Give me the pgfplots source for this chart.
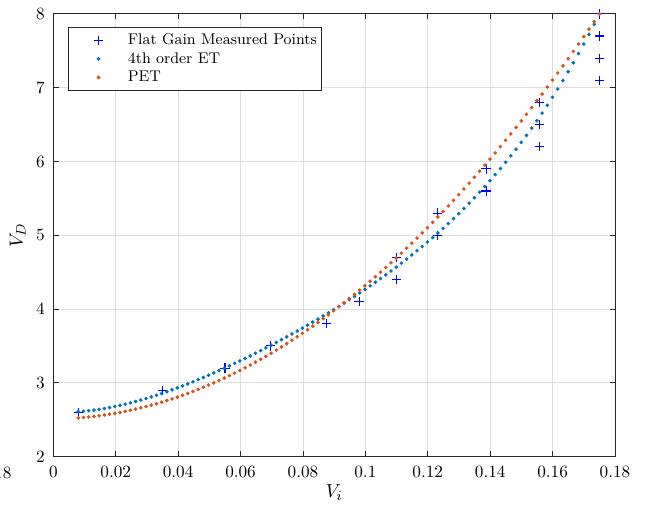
\documentclass[border=0pt]{standalone}
\usepackage{pgfplots}
\usepackage{pgfplotstable}
\pgfplotsset{compat=1.18}
\definecolor{mblue}{rgb}{0,0.447,0.741}
\definecolor{morange}{rgb}{0.85,0.325,0.098}
\definecolor{axgray}{rgb}{0.15,0.15,0.15}
\definecolor{gridgray}{rgb}{0.875,0.875,0.875}

\pgfplotstableread{
x et pet
0.00800 2.6100 2.5240
0.00967 2.6153 2.5300
0.01134 2.6223 2.5369
0.01301 2.6307 2.5449
0.01468 2.6407 2.5538
0.01635 2.6520 2.5637
0.01802 2.6647 2.5746
0.01969 2.6787 2.5865
0.02136 2.6940 2.5994
0.02303 2.7104 2.6132
0.02470 2.7280 2.6281
0.02637 2.7467 2.6439
0.02804 2.7665 2.6607
0.02971 2.7873 2.6785
0.03138 2.8091 2.6973
0.03305 2.8318 2.7171
0.03472 2.8554 2.7378
0.03639 2.8799 2.7596
0.03806 2.9052 2.7823
0.03973 2.9313 2.8060
0.04140 2.9582 2.8307
0.04307 2.9858 2.8564
0.04474 3.0141 2.8831
0.04641 3.0431 2.9107
0.04808 3.0727 2.9394
0.04975 3.1030 2.9690
0.05142 3.1339 2.9996
0.05309 3.1654 3.0312
0.05476 3.1975 3.0638
0.05643 3.2301 3.0974
0.05810 3.2633 3.1319
0.05977 3.2970 3.1675
0.06144 3.3312 3.2040
0.06311 3.3660 3.2415
0.06478 3.4013 3.2800
0.06645 3.4370 3.3195
0.06812 3.4733 3.3599
0.06979 3.5101 3.4014
0.07146 3.5474 3.4438
0.07313 3.5852 3.4873
0.07480 3.6234 3.5317
0.07647 3.6622 3.5771
0.07814 3.7015 3.6235
0.07981 3.7414 3.6708
0.08148 3.7817 3.7192
0.08315 3.8227 3.7685
0.08482 3.8641 3.8188
0.08649 3.9062 3.8702
0.08816 3.9488 3.9225
0.08983 3.9921 3.9757
0.09150 4.0360 4.0300
0.09317 4.0806 4.0853
0.09484 4.1258 4.1415
0.09651 4.1717 4.1987
0.09818 4.2184 4.2569
0.09985 4.2658 4.3161
0.10152 4.3141 4.3763
0.10319 4.3631 4.4375
0.10486 4.4130 4.4996
0.10653 4.4638 4.5628
0.10820 4.5156 4.6269
0.10987 4.5683 4.6920
0.11154 4.6220 4.7581
0.11321 4.6768 4.8252
0.11488 4.7327 4.8932
0.11655 4.7898 4.9623
0.11822 4.8480 5.0323
0.11989 4.9075 5.1033
0.12156 4.9683 5.1753
0.12323 5.0305 5.2483
0.12490 5.0940 5.3223
0.12657 5.1591 5.3973
0.12824 5.2256 5.4732
0.12991 5.2937 5.5502
0.13158 5.3635 5.6281
0.13325 5.4350 5.7070
0.13492 5.5083 5.7869
0.13659 5.5834 5.8678
0.13826 5.6604 5.9496
0.13993 5.7394 6.0325
0.14160 5.8205 6.1163
0.14327 5.9037 6.2011
0.14494 5.9890 6.2869
0.14661 6.0767 6.3737
0.14828 6.1668 6.4615
0.14995 6.2592 6.5503
0.15162 6.3542 6.6400
0.15329 6.4519 6.7308
0.15496 6.5522 6.8225
0.15663 6.6553 6.9152
0.15830 6.7612 7.0089
0.15997 6.8702 7.1036
0.16164 6.9822 7.1992
0.16331 7.0973 7.2959
0.16498 7.2157 7.3935
0.16665 7.3375 7.4921
0.16832 7.4627 7.5917
0.16999 7.5914 7.6923
0.17166 7.7238 7.7939
0.17333 7.8600 7.8965
0.17500 8.0000 8.0000
}\curves

\begin{document}
\begin{tikzpicture}
\begin{axis}[
  name=ax,
  scale only axis,
  width=326.6pt, height=257.4pt,
  xmin=0, xmax=0.18, ymin=2, ymax=8,
  xtick={0,0.02,0.04,0.06,0.08,0.1,0.12,0.14,0.16,0.18},
  xticklabels={$0$,$0.02$,$0.04$,$0.06$,$0.08$,$0.1$,$0.12$,$0.14$,$0.16$,$0.18$},
  ytick={2,3,4,5,6,7,8},
  yticklabels={$2$,$3$,$4$,$5$,$6$,$7$,$8$},
  grid=major,
  major grid style={gridgray, line width=0.5pt},
  axis line style={axgray, line width=0.5pt},
  tick style={axgray, line width=0.5pt},
  major tick length=3.2pt,
  tick align=inside,
  xticklabel style={yshift=-2pt},
  yticklabel style={xshift=-1.5pt},
  xlabel={$V_i$}, ylabel={$V_D$},
  label style={font=\fontsize{11}{13}\selectfont},
  xlabel style={at={(axis description cs:0.5,-0.082)}, anchor=center},
  ylabel style={at={(axis description cs:-0.0634,0.5)}, anchor=center},
  legend style={at={(axis description cs:0.026,0.9705)}, anchor=north west,
    draw=axgray, line width=0.5pt, fill=white,
    font=\fontsize{9}{10.8}\selectfont,
    inner xsep=1.5pt, inner ysep=2.1pt, row sep=0pt, column sep=0pt,
    nodes={inner xsep=1pt, inner ysep=1.4pt, text height=6.5pt, text depth=1.5pt}},
  legend cell align=left,
  legend image code/.code={\path (0pt,0pt) (31.6pt,0pt); \draw[#1] plot coordinates {(15.8pt,0pt)};},
]
\addplot[only marks, mark=+, mark size=2.7pt, color=blue, mark options={line width=0.65pt}] coordinates {
(0.008,2.6) (0.035,2.9) (0.055,3.2) (0.0695,3.5) (0.0875,3.8) (0.098,4.1)
(0.11,4.4) (0.11,4.7) (0.123,5.0) (0.123,5.3) (0.1387,5.6) (0.1387,5.9)
(0.1557,6.2) (0.1557,6.5) (0.1557,6.8) (0.175,7.1) (0.175,7.4) (0.175,7.7) (0.175,8.0)
};
\addlegendentry{Flat Gain Measured Points}
\addplot[only marks, mark=*, mark size=0.85pt, color=mblue, mark options={draw=none, fill=mblue}] table[x=x, y=et] {\curves};
\addlegendentry{4th order ET}
\addplot[only marks, mark=*, mark size=0.85pt, color=morange, mark options={draw=none, fill=morange}] table[x=x, y=pet] {\curves};
\addlegendentry{PET}
\end{axis}
\node[anchor=north east, inner sep=0pt] at ([shift={(-24.2pt,-6pt)}]ax.south west) {$0.18$};
\pgfresetboundingbox
\path[use as bounding box] ([shift={(-31pt,-31.6pt)}]ax.south west) rectangle ([shift={(18.6pt,8.1pt)}]ax.north east);
\end{tikzpicture}
\end{document}
